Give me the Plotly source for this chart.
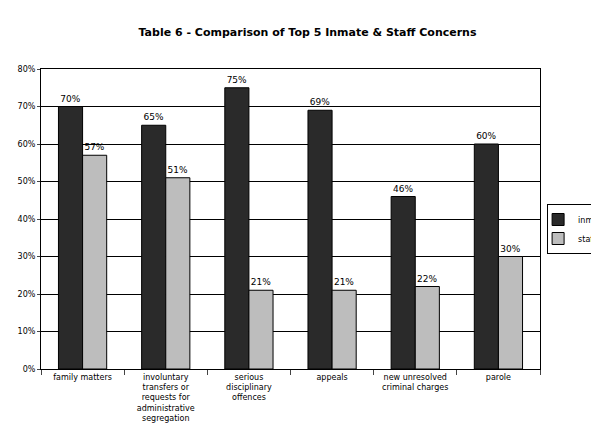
import plotly.graph_objects as go

categories = ["family matters", "involuntary<br>transfers or<br>requests for<br>administrative<br>segregation",
              "serious<br>disciplinary<br>offences", "appeals", "new unresolved<br>criminal charges", "parole"]
inmates = [70, 65, 75, 69, 46, 60]
staff = [57, 51, 21, 21, 22, 30]

fig = go.Figure()
fig.add_bar(x=categories, y=inmates, name="inmates", marker=dict(color="#2a2a2a", line=dict(color="black", width=1)),
            text=[f"{v}%" for v in inmates], textposition="outside", cliponaxis=False)
fig.add_bar(x=categories, y=staff, name="staff", marker=dict(color="#bdbdbd", line=dict(color="black", width=1)),
            text=[f"{v}%" for v in staff], textposition="outside", cliponaxis=False)
fig.update_traces(textfont=dict(size=9, color="black"))
fig.update_layout(
    width=599, height=442, barmode="group", bargap=0.42, bargroupgap=0,
    paper_bgcolor="white", plot_bgcolor="white",
    margin=dict(l=33, r=67, t=61, b=81),
    font=dict(family="DejaVu Sans", size=8, color="black"),
    title=dict(text="<b>Table 6 - Comparison of Top 5 Inmate & Staff Concerns</b>", x=0.5, xref="container",
               y=0.945, yanchor="middle", font=dict(size=11)),
    legend=dict(xref="container", yref="container", x=0.9, y=0.5, xanchor="left", yanchor="middle",
                bordercolor="black", borderwidth=1, font=dict(size=8), tracegroupgap=0,
                itemwidth=30, indentation=-10),
)
fig.update_yaxes(range=[0, 80], dtick=10, ticksuffix="%", showgrid=True, gridcolor="black", gridwidth=1,
                 showline=True, linecolor="black", mirror=True, ticks="outside", ticklen=3, zeroline=False,
                 automargin=False)
fig.update_xaxes(showline=True, linecolor="black", mirror=True, ticks="outside", tickson="boundaries",
                 ticklen=5, tickangle=0, automargin=False)
fig.write_html("out.html")
